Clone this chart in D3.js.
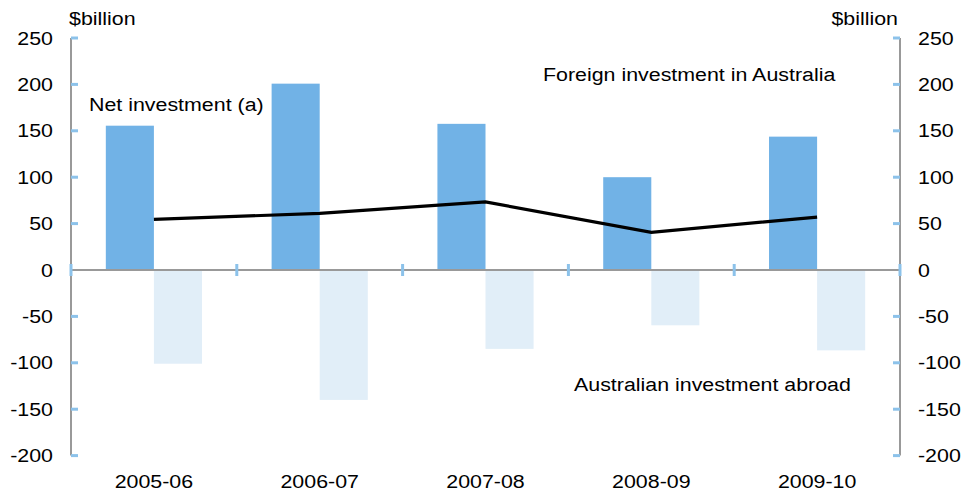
<!DOCTYPE html>
<html>
<head>
<meta charset="utf-8">
<script src="https://cdn.jsdelivr.net/npm/d3@7"></script>
<style>
  body { margin: 0; background: #fff; }
  text { font-family: "Liberation Sans", Arial, sans-serif; fill: #000; font-size: 18.6px; }
</style>
</head>
<body>
<div id="chart"></div>
<script>
// data ($billion)
const years = ["2005-06", "2006-07", "2007-08", "2008-09", "2009-10"];
const foreignInAus = [155.5, 200.8, 157.5, 100, 143.7];
const ausAbroad = [-101, -140, -85, -59.6, -86.6];
const netInvestment = [54.6, 61, 73.3, 40.6, 57];
const yTicks = [250, 200, 150, 100, 50, 0, -50, -100, -150, -200];

const W = 968, H = 495;
const plot = { left: 71, right: 900, top: 38, bottom: 455.6 };
// the original picture is a bit wider than tall, so text gets stretched
const stretch = 1.15;

const svg = d3.select("#chart")
    .append("svg")
    .attr("width", W)
    .attr("height", H);

const y = d3.scaleLinear()
    .domain([-200, 250])
    .range([plot.bottom, plot.top]);

const x = d3.scaleBand()
    .domain(years)
    .range([plot.left, plot.right]);

const barW = x.bandwidth() * 0.29;
const tickBlue = "#8cc2ea";

const place = (px, py) => "translate(" + px + "," + py + ") scale(" + stretch + ",1)";

// foreign investment bars (left of centre)
svg.selectAll(".foreign")
    .data(years)
    .enter()
    .append("rect")
    .attr("class", "foreign")
    .attr("x", d => x(d) + x.bandwidth() / 2 - barW)
    .attr("y", (d, i) => y(foreignInAus[i]))
    .attr("width", barW)
    .attr("height", (d, i) => y(0) - y(foreignInAus[i]))
    .style("fill", "#71b2e6");

// australian investment abroad bars (right of centre)
svg.selectAll(".abroad")
    .data(years)
    .enter()
    .append("rect")
    .attr("class", "abroad")
    .attr("x", d => x(d) + x.bandwidth() / 2)
    .attr("y", y(0))
    .attr("width", barW)
    .attr("height", (d, i) => y(ausAbroad[i]) - y(0))
    .style("fill", "#e1eef8");

// axes lines
const grey = "#999";
svg.append("line")
    .attr("x1", plot.left).attr("x2", plot.left)
    .attr("y1", plot.top).attr("y2", plot.bottom)
    .style("stroke", grey).style("stroke-width", 2);
svg.append("line")
    .attr("x1", plot.right).attr("x2", plot.right)
    .attr("y1", plot.top).attr("y2", plot.bottom)
    .style("stroke", grey).style("stroke-width", 2);
svg.append("line")
    .attr("x1", plot.left).attr("x2", plot.right)
    .attr("y1", y(0)).attr("y2", y(0))
    .style("stroke", grey).style("stroke-width", 2);

// value ticks on both axes
svg.selectAll(".ltick")
    .data(yTicks.filter(d => d !== 0))
    .enter()
    .append("line")
    .attr("x1", plot.left).attr("x2", plot.left + 7)
    .attr("y1", d => y(d)).attr("y2", d => y(d))
    .style("stroke", tickBlue).style("stroke-width", 3);
svg.selectAll(".rtick")
    .data(yTicks.filter(d => d !== 0))
    .enter()
    .append("line")
    .attr("x1", plot.right - 7).attr("x2", plot.right)
    .attr("y1", d => y(d)).attr("y2", d => y(d))
    .style("stroke", tickBlue).style("stroke-width", 3);

// category boundary ticks on the zero line
const bounds = years.map(d => x(d)).concat([plot.right]);
svg.selectAll(".ctick")
    .data(bounds)
    .enter()
    .append("line")
    .attr("x1", d => d).attr("x2", d => d)
    .attr("y1", y(0) - 6).attr("y2", y(0) + 6)
    .style("stroke", tickBlue).style("stroke-width", 3);

// tick labels
svg.selectAll(".llab")
    .data(yTicks)
    .enter()
    .append("text")
    .attr("transform", d => place(53, y(d)))
    .attr("dy", "0.35em")
    .attr("text-anchor", "end")
    .text(d => d);
svg.selectAll(".rlab")
    .data(yTicks)
    .enter()
    .append("text")
    .attr("transform", d => place(918, y(d)))
    .attr("dy", "0.35em")
    .text(d => d);

svg.selectAll(".xlab")
    .data(years)
    .enter()
    .append("text")
    .attr("transform", d => place(x(d) + x.bandwidth() / 2, 481))
    .attr("dy", "0.35em")
    .attr("text-anchor", "middle")
    .text(d => d);

// net investment line
const line = d3.line()
    .x(d => x(d.year) + x.bandwidth() / 2)
    .y(d => y(d.value));
svg.append("path")
    .datum(years.map((d, i) => ({ year: d, value: netInvestment[i] })))
    .attr("d", line)
    .style("fill", "none")
    .style("stroke", "#000")
    .style("stroke-width", 3.2);

// unit labels
svg.append("text")
    .attr("transform", place(69, 18))
    .attr("dy", "0.35em")
    .text("$billion");
svg.append("text")
    .attr("transform", place(898, 18))
    .attr("dy", "0.35em")
    .attr("text-anchor", "end")
    .text("$billion");

// series annotations
svg.append("text")
    .attr("transform", place(89, 104))
    .attr("dy", "0.35em")
    .text("Net investment (a)");
svg.append("text")
    .attr("transform", place(543, 74))
    .attr("dy", "0.35em")
    .text("Foreign investment in Australia");
svg.append("text")
    .attr("transform", place(574, 384))
    .attr("dy", "0.35em")
    .text("Australian investment abroad");
</script>
</body>
</html>
